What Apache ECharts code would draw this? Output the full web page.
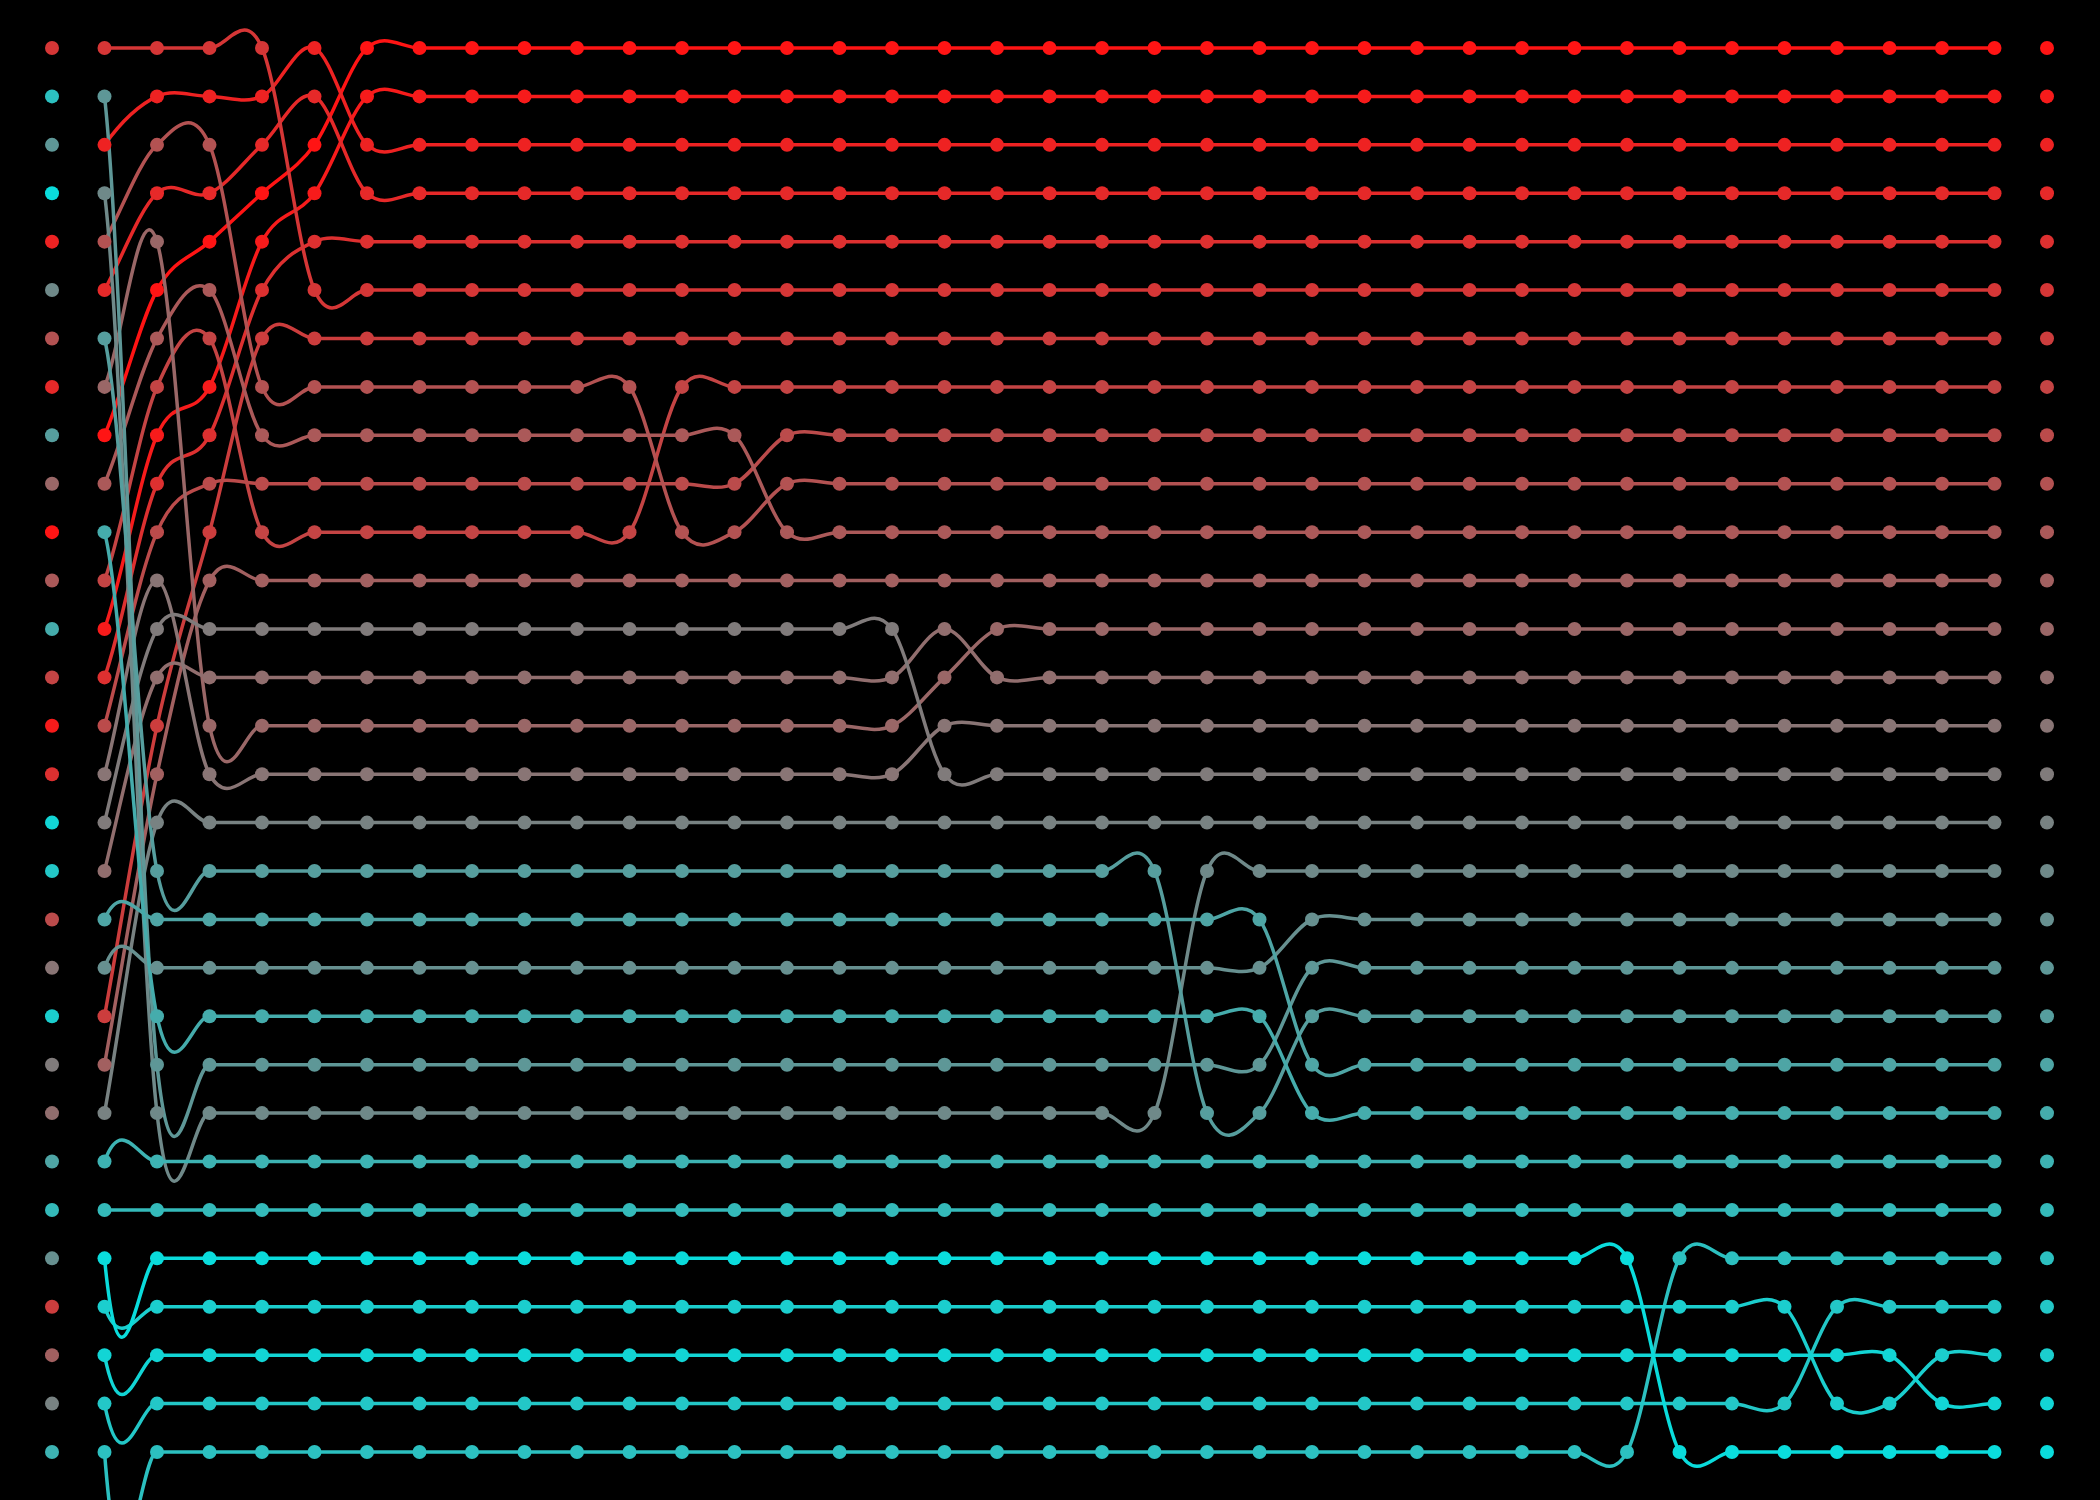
<!DOCTYPE html>
<html>
<head>
<meta charset="utf-8">
<script src="https://cdn.jsdelivr.net/npm/echarts@6/dist/echarts.min.js"></script>
<style>
html,body{margin:0;padding:0;background:#000;}
#chart{width:2100px;height:1500px;}
</style>
</head>
<body>
<div id="chart"></div>
<script>
// Snapshots of a quicksort run. Each state lists, row by row from the top,
// the rank (0 = reddest, 29 = most cyan) of the item shown in that row.
const state0  = [5,25,19,29,2,17,9,3,20,12,0,10,22,7,1,4,28,26,8,14,27,15,13,21,24,18,6,11,16,23];
const state1  = [5,19,2,17,9,3,20,12,0,10,22,7,1,4,8,14,15,13,21,18,6,11,16,23,24,29,27,28,26,25];
const state2  = [5,2,9,3,12,0,10,7,1,4,8,14,15,13,6,11,16,20,21,18,22,19,17,23,24,29,27,28,26,25];
const state3  = [5,2,9,3,0,10,7,1,4,8,6,11,15,13,12,14,16,20,21,18,22,19,17,23,24,29,27,28,26,25];
const state4  = [5,2,3,0,1,4,6,9,10,8,7,11,15,13,12,14,16,20,21,18,22,19,17,23,24,29,27,28,26,25];
const state5  = [2,3,0,1,4,5,6,9,10,8,7,11,15,13,12,14,16,20,21,18,22,19,17,23,24,29,27,28,26,25];
const state6  = [0,1,2,3,4,5,6,9,10,8,7,11,15,13,12,14,16,20,21,18,22,19,17,23,24,29,27,28,26,25];
const state7  = [0,1,2,3,4,5,6,7,10,8,9,11,15,13,12,14,16,20,21,18,22,19,17,23,24,29,27,28,26,25];
const state8  = [0,1,2,3,4,5,6,7,8,9,10,11,15,13,12,14,16,20,21,18,22,19,17,23,24,29,27,28,26,25];
const state9  = [0,1,2,3,4,5,6,7,8,9,10,11,13,12,14,15,16,20,21,18,22,19,17,23,24,29,27,28,26,25];
const state10 = [0,1,2,3,4,5,6,7,8,9,10,11,12,13,14,15,16,20,21,18,22,19,17,23,24,29,27,28,26,25];
const state11 = [0,1,2,3,4,5,6,7,8,9,10,11,12,13,14,15,16,17,21,18,22,19,20,23,24,29,27,28,26,25];
const state12 = [0,1,2,3,4,5,6,7,8,9,10,11,12,13,14,15,16,17,18,19,20,21,22,23,24,29,27,28,26,25];
const state13 = [0,1,2,3,4,5,6,7,8,9,10,11,12,13,14,15,16,17,18,19,20,21,22,23,24,25,27,28,26,29];
const state14 = [0,1,2,3,4,5,6,7,8,9,10,11,12,13,14,15,16,17,18,19,20,21,22,23,24,25,26,28,27,29];
const state15 = [0,1,2,3,4,5,6,7,8,9,10,11,12,13,14,15,16,17,18,19,20,21,22,23,24,25,26,27,28,29];

// Which state is shown in each of the 39 columns (steps).
const columns       = [0,1,2,3,4,5,6,7,8,9,10,11,12,13,14,15,16,17,18,19,20,21,22,23,24,25,26,27,28,29,30,31,32,33,34,35,36,37,38];
const stateAtColumn = [0,1,2,3,4,5,6,6,6,6,6,6,7,7,8,8,8,9,10,10,10,10,11,11,12,12,12,12,12,12,12,13,13,13,14,14,15,15,15];

const states = [state0,state1,state2,state3,state4,state5,state6,state7,state8,state9,state10,state11,state12,state13,state14,state15];
const itemCount = state0.length;
const rowOfRank = states.map(function (s) {
  const inv = [];
  s.forEach(function (rank, row) { inv[rank] = row; });
  return inv;
});
function rowAt(rank, col) { return rowOfRank[stateAtColumn[col]][rank]; }

const startColor = [255, 20, 20];
const endColor = [10, 220, 220];
function colorFor(rank) {
  const t = rank / (itemCount - 1);
  const c = startColor.map(function (v, i) { return Math.round(v + (endColor[i] - v) * t); });
  return 'rgb(' + c.join(',') + ')';
}

// dots: every item at every column
const dotData = [];
columns.forEach(function (col) {
  states[stateAtColumn[col]].forEach(function (rank, row) { dotData.push([col, row, rank]); });
});
// line segments: from column 1 to column 37 (first/last columns act as spline control points)
const segData = [];
for (let rank = 0; rank < itemCount; rank++) {
  for (let i = 1; i < columns.length - 2; i++) {
    segData.push([columns[i], rowAt(rank, columns[i]), rank]);
  }
}

const chart = echarts.init(document.getElementById('chart'));
chart.setOption({
  backgroundColor: '#000000',
  animation: false,
  grid: { left: 52, right: 53, top: 48, bottom: 48 },
  xAxis: { type: 'value', min: 0, max: 38, show: false },
  yAxis: { type: 'value', min: 0, max: 29, inverse: true, show: false },
  series: [
    {
      type: 'custom',
      clip: false,
      silent: true,
      z: 2,
      data: segData,
      encode: { x: 0, y: 1 },
      renderItem: function (params, api) {
        const col = api.value(0);
        const rank = api.value(2);
        const p = [col - 1, col, col + 1, col + 2].map(function (c) {
          return api.coord([c, rowAt(rank, c)]);
        });
        const k = 1 / 6;
        return {
          type: 'bezierCurve',
          shape: {
            x1: p[1][0], y1: p[1][1],
            x2: p[2][0], y2: p[2][1],
            cpx1: p[1][0] + (p[2][0] - p[0][0]) * k,
            cpy1: p[1][1] + (p[2][1] - p[0][1]) * k,
            cpx2: p[2][0] - (p[3][0] - p[1][0]) * k,
            cpy2: p[2][1] - (p[3][1] - p[1][1]) * k
          },
          style: { stroke: colorFor(rank), lineWidth: 3.5, fill: 'none', lineCap: 'round' }
        };
      }
    },
    {
      type: 'scatter',
      silent: true,
      z: 3,
      symbolSize: 14,
      data: dotData,
      itemStyle: {
        opacity: 1,
        color: function (p) { return colorFor(p.value[2]); }
      }
    }
  ]
});
</script>
</body>
</html>
